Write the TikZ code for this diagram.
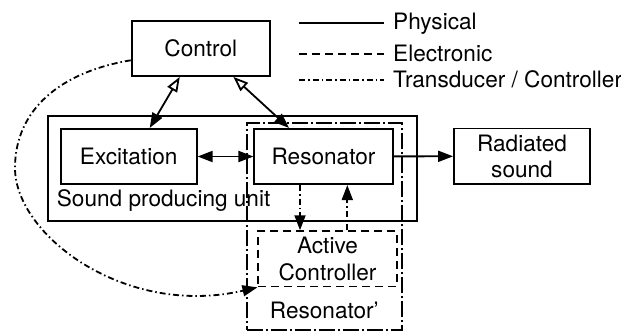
\documentclass[tikz,border=0pt]{standalone}
\usepackage{fontspec}
\setmainfont{TeX Gyre Heros}
\usetikzlibrary{arrows.meta,calc}
\tikzset{
  el/.style={dash pattern=on 8pt off 5pt},
  td/.style={dash pattern=on 6pt off 3pt on 1.5pt off 3pt},
  blk/.style={draw,line width=1.8pt,minimum width=138.3pt,minimum height=55.3pt,inner sep=0pt,align=center},
  dbox/.style={blk,el},
  ubox/.style={draw,line width=1.8pt,inner sep=0pt},
  tbox/.style={ubox,dash pattern=on 16pt off 3pt on 2pt off 3pt},
  lg/.style={anchor=base west,inner sep=0pt},
  ar/.style={-{Triangle[length=15pt,width=11pt]},line width=1.8pt},
  arr/.style={{Triangle[length=15pt,width=11pt]}-{Triangle[length=15pt,width=11pt]},line width=1.8pt},
  arc/.style={{Triangle[open,length=15pt,width=11pt]}-{Triangle[length=15pt,width=11pt]},line width=1.8pt},
  ard/.style={ar,td}
}
\begin{document}
\begin{tikzpicture}[x=1pt,y=-1pt,font=\fontsize{22.6}{26.5}\selectfont]
\useasboundingbox (0,0) rectangle (621,332);
% outer frames
\node[ubox,minimum width=368.7pt,minimum height=105.3pt] (spu) at (232.3,168.3) {};
\node[tbox,minimum width=155.3pt,minimum height=206.7pt] (resp) at (324.3,226.7) {};
% blocks
\node[blk] (ctrl) at (200.8,48.3) {Control};
\node[blk,minimum width=136pt] (exc) at (128.7,156.5) {Excitation};
\node[blk] (res) at (323.5,156.5) {Resonator};
\node[blk,minimum width=136pt] (rad) at (522,156.2) {Radiated\\sound};
\node[dbox] (act) at (327.5,258.8) {Active\\Controller};
\node[lg] (spulbl) at (56.7,206.7) {Sound producing unit};
\node[anchor=base,inner sep=0pt] (resplbl) at (324.3,318.3) {Resonator’};
% legend
\node[lg] (lphy) at (393,29.3) {Physical};
\node[lg] (lele) at (393,61) {Electronic};
\node[lg] (ltra) at (393,87.3) {Transducer / Controller};
\draw[line width=1.8pt] ([shift={(-94pt,6pt)}]lphy.base west) -- ([shift={(-9pt,6pt)}]lphy.base west);
\draw[line width=1.8pt,el] ([shift={(-94pt,7pt)}]lele.base west) -- ([shift={(-9pt,7pt)}]lele.base west);
\draw[line width=1.8pt,td] ([shift={(-94pt,7.3pt)}]ltra.base west) -- ([shift={(-9pt,7.3pt)}]ltra.base west);
% links
\draw[arc] ([xshift=-21pt]ctrl.south) -- ([xshift=21pt]exc.north);
\draw[arc] ([xshift=32.5pt]ctrl.south) -- ([xshift=-34.5pt]res.north);
\draw[arr] (exc) -- (res);
\draw[ar] (res) -- (rad);
\draw[ard] ([xshift=-23.5pt]res.south) -- ([xshift=-27.5pt]act.north);
\draw[ard] ([xshift=19.8pt]act.north) -- ([xshift=23.8pt]res.south);
\draw[ard] ([yshift=-12pt]ctrl.west) .. controls (60,72) and (15,110) .. (15,168)
  .. controls (15,235) and (125,318) .. (act.south west);
\end{tikzpicture}
\end{document}
